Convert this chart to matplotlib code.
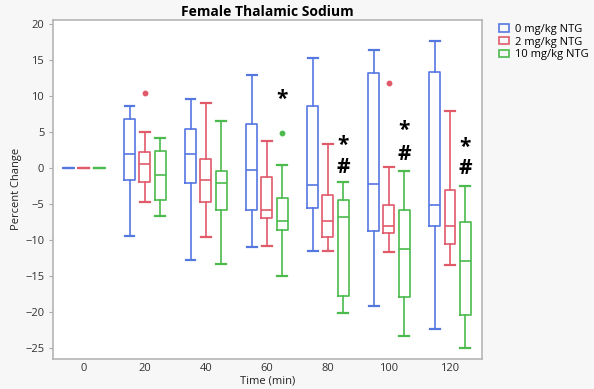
import matplotlib
matplotlib.use("Agg")
import matplotlib.pyplot as plt
from matplotlib.patches import Patch

plt.rcParams["font.family"] = ["Open Sans", "DejaVu Sans"]

# --- data (percent change) ---
times = ["0", "20", "40", "60", "80", "100", "120"]
groups = ["0 mg/kg NTG", "2 mg/kg NTG", "10 mg/kg NTG"]

# per group: one value per time point
whislo = {
    "0 mg/kg NTG": [0, -9.4, -12.8, -11.0, -11.6, -19.2, -22.4],
    "2 mg/kg NTG": [0, -4.7, -9.6, -10.9, -11.5, -11.7, -13.5],
    "10 mg/kg NTG": [0, -6.7, -13.4, -15.0, -20.1, -23.3, -25.1],
}
q1 = {
    "0 mg/kg NTG": [0, -1.6, -2.1, -5.8, -5.6, -8.8, -8.1],
    "2 mg/kg NTG": [0, -1.9, -4.7, -6.9, -9.6, -9.1, -10.6],
    "10 mg/kg NTG": [0, -4.4, -5.9, -8.6, -17.8, -17.9, -20.5],
}
med = {
    "0 mg/kg NTG": [0, 1.9, 2.0, -0.3, -2.4, -2.2, -5.1],
    "2 mg/kg NTG": [0, 0.6, -1.7, -5.8, -7.3, -8.0, -8.1],
    "10 mg/kg NTG": [0, -0.9, -2.1, -7.3, -6.8, -11.2, -13.0],
}
q3 = {
    "0 mg/kg NTG": [0, 6.8, 5.4, 6.1, 8.7, 13.2, 13.3],
    "2 mg/kg NTG": [0, 2.2, 1.3, -1.3, -3.7, -5.2, -3.1],
    "10 mg/kg NTG": [0, 2.4, -0.4, -4.1, -4.5, -5.9, -7.5],
}
whishi = {
    "0 mg/kg NTG": [0, 8.6, 9.6, 13.0, 15.3, 16.4, 17.7],
    "2 mg/kg NTG": [0, 5.0, 9.1, 3.7, 3.3, 0.2, 8.0],
    "10 mg/kg NTG": [0, 4.2, 6.6, 0.4, -1.9, -0.4, -2.5],
}
fliers = {
    "0 mg/kg NTG": [[], [], [], [], [], [], []],
    "2 mg/kg NTG": [[], [10.5], [], [], [], [11.9], []],
    "10 mg/kg NTG": [[], [], [], [4.9], [], [], []],
}

# significance marks (placed above the 10 mg/kg box)
sig_times = ["60", "80", "80", "100", "100", "120", "120"]
sig_marks = ["*", "*", "#", "*", "#", "*", "#"]
sig_y = [9.5, 3.2, 0.1, 5.2, 1.9, 2.9, -0.1]

colors = {"0 mg/kg NTG": "#5577e0", "2 mg/kg NTG": "#e05a6a", "10 mg/kg NTG": "#4cba4c"}
offsets = {"0 mg/kg NTG": -0.25, "2 mg/kg NTG": 0.0, "10 mg/kg NTG": 0.25}

fig = plt.figure(figsize=(5.94, 3.89), dpi=100, facecolor="#f7f7f7")
ax = fig.add_axes([0.0897, 0.0784, 0.7213, 0.8702])
ax.set_facecolor("white")

for g in groups:
    stats = []
    for i in range(len(times)):
        stats.append(dict(whislo=whislo[g][i], q1=q1[g][i], med=med[g][i],
                          q3=q3[g][i], whishi=whishi[g][i], fliers=fliers[g][i]))
    pos = [i + offsets[g] for i in range(len(times))]
    c = colors[g]
    ax.bxp(stats, positions=pos, widths=0.18, showfliers=True,
           boxprops=dict(color=c, linewidth=1.2),
           medianprops=dict(color=c, linewidth=1.2),
           whiskerprops=dict(color=c, linewidth=1.2),
           capprops=dict(color=c, linewidth=1.6),
           flierprops=dict(marker="o", markersize=3.2, markerfacecolor=c,
                           markeredgecolor=c),
           capwidths=0.16, manage_ticks=False)

for t, m, y in zip(sig_times, sig_marks, sig_y):
    ax.text(times.index(t) + 0.25, y, m, ha="center", va="center",
            fontsize=15, fontweight="bold", color="black")

ax.set_xlim(-0.5, 6.52)
ax.set_ylim(-26.5, 20.6)
ax.set_xticks(range(len(times)))
ax.set_xticklabels(times)
ax.set_yticks([20, 15, 10, 5, 0, -5, -10, -15, -20, -25])
ax.tick_params(axis="both", labelsize=8, colors="#333333", length=3,
               width=0.8)
ax.tick_params(axis="x", length=0, pad=3)
ax.tick_params(axis="y", color="#aaaaaa")
for s in ax.spines.values():
    s.set_color("#b5b5b5")
    s.set_linewidth(1.2)

ax.set_xlabel("Time (min)", fontsize=8, color="#222222", labelpad=1)
ax.set_ylabel("Percent Change", fontsize=8, color="#222222", labelpad=2)
ax.set_title("Female Thalamic Sodium", fontsize=10, fontweight="bold", pad=3)

handles = [Patch(facecolor="none", edgecolor=colors[g], linewidth=1.2) for g in groups]
fig.legend(handles, groups, loc="upper left", bbox_to_anchor=(0.832, 0.95),
           frameon=False, fontsize=8, handlelength=0.9, handleheight=0.6,
           handletextpad=0.6, labelspacing=0.15, borderaxespad=0)

fig.savefig("out.png", dpi=100, facecolor=fig.get_facecolor())
